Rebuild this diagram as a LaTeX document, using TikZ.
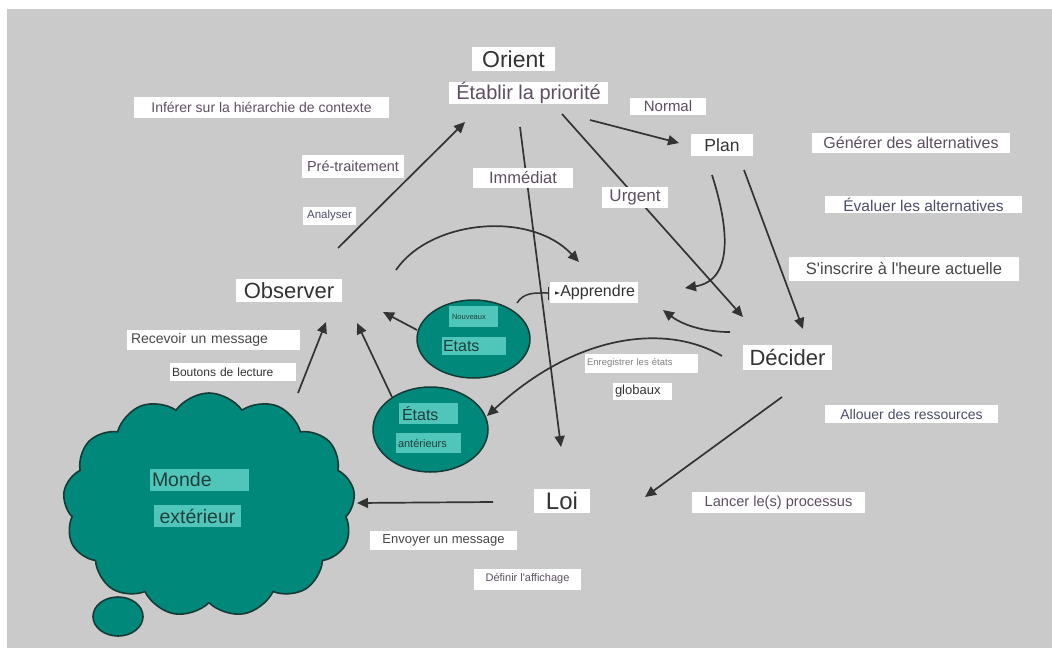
\documentclass[tikz,border=0pt]{standalone}
\usepackage{fontspec}
\setmainfont{Liberation Sans}[Ligatures=TeXOff]
\usetikzlibrary{arrows.meta,shapes.symbols,shapes.geometric}
\newcommand{\fsz}[1]{\fontsize{#1}{#1}\selectfont}
\definecolor{bg}{HTML}{CACACA}
\definecolor{sea}{HTML}{00897B}
\definecolor{seal}{HTML}{4FC6B9}
\definecolor{rim}{HTML}{163A36}
\definecolor{ink}{HTML}{333333}
\definecolor{mauve}{HTML}{5E4E62}
\definecolor{slate}{HTML}{4B4D6B}
\definecolor{gtx}{HTML}{474747}
\definecolor{deep}{HTML}{1F3F3C}
\tikzset{
  box/.style={fill=white, inner sep=0pt, text=ink},
  tag/.style={fill=seal, inner sep=0pt, text=deep, align=left},
  orb/.style={ellipse, draw=rim, fill=sea, line width=1.5pt, inner sep=0pt},
  wire/.style={draw=ink, line width=1.7pt, -{Triangle[length=11pt,width=10pt]}},
}
\begin{document}
\begin{tikzpicture}[x=1pt,y=-1pt]
\useasboundingbox (0,0) rectangle (1052,648);
\fill[white] (0,0) rectangle (1052,648);
\fill[bg] (7,9) rectangle (1052,648);

% outer world as a thought cloud
\node[ellipse, draw=rim, fill=sea, line width=1.6pt, minimum width=50pt, minimum height=39pt] (puff) at (118,616.5) {};
\node[cloud, cloud puffs=13, cloud puff arc=110, cloud ignores aspect, draw=rim, fill=sea, line width=1.6pt,
      minimum width=292pt, minimum height=224pt, inner sep=0pt] (world) at (209,505) {};
\node[tag, text width=95pt, inner xsep=2pt, minimum height=22pt, font=\fsz{19.5}] (monde) at (199.5,480) {Monde};
\node[tag, align=center, minimum width=87pt, minimum height=22pt, font=\fsz{19.5}] (ext) at (197.5,516) {extérieur};

% state stores
\node[orb, minimum width=113pt, minimum height=78pt] (fresh) at (473.5,339) {};
\node[tag, text width=43pt, inner xsep=3pt, minimum height=21pt, font=\fsz{7.5}] (nouv) at (473.5,316.5) {Nouveaux};
\node[tag, text width=62pt, inner xsep=1pt, minimum height=18pt, font=\fsz{16}] (etats) at (474,346) {Etats};
\node[orb, minimum width=115pt, minimum height=85pt] (past) at (430.5,429.5) {};
\node[tag, text width=53pt, inner xsep=3pt, minimum height=21pt, font=\fsz{16}] (etats2) at (428.5,413.5) {États};
\node[tag, text width=61pt, inner xsep=2pt, minimum height=20pt, font=\fsz{11}] (anter) at (428.5,443) {antérieurs};

% connector end points
\coordinate (obsUp) at (338,248);   \coordinate (prioIn) at (465,122);
\coordinate (arcS) at (396,270);    \coordinate (arcE) at (579,262);
\coordinate (immS) at (520,127);    \coordinate (immE) at (561,447);
\coordinate (urgS) at (562,114);    \coordinate (urgE) at (743,317);
\coordinate (norS) at (590,120);    \coordinate (norE) at (679,143);
\coordinate (plnS) at (712,175);    \coordinate (plnE) at (685,288);
\coordinate (plnD) at (744,170);    \coordinate (decIn) at (803,329);
\coordinate (decL) at (730,332);    \coordinate (aprIn) at (663,310);
\coordinate (decS) at (722,356);    \coordinate (pastIn) at (487,416);
\coordinate (decB) at (782,397);    \coordinate (loiIn) at (645,497);
\coordinate (loiS) at (493,502);    \coordinate (worldIn) at (357,503);
\coordinate (worldUp) at (298,393); \coordinate (obsA) at (326,322);
\coordinate (pastUp) at (392,397);  \coordinate (obsB) at (357,323);
\coordinate (freshL) at (417,330);  \coordinate (obsC) at (383,312);
\coordinate (freshR) at (517,303);  \coordinate (aprBar) at (549,293);
\coordinate (aprMark) at (560,293);

% connectors
\draw[wire] (obsUp) -- (prioIn);
\draw[wire] (arcS) .. controls (430,220) and (530,210) .. (arcE);
\draw[wire] (immS) -- (immE);
\draw[wire] (urgS) -- (urgE);
\draw[wire] (norS) -- (norE);
\draw[wire] (plnS) .. controls (728,225) and (735,280) .. (plnE);
\draw[wire] (plnD) -- (decIn);
\draw[wire] (decL) .. controls (700,332) and (680,323) .. (aprIn);
\draw[wire] (decS) .. controls (670,325) and (580,330) .. (pastIn);
\draw[wire] (decB) -- (loiIn);
\draw[wire] (loiS) -- (worldIn);
\draw[wire] (worldUp) -- (obsA);
\draw[wire] (pastUp) -- (obsB);
\draw[wire] (freshL) -- (obsC);

% labels
\node[box, minimum width=83pt, minimum height=24pt, font=\fsz{23}] (orient) at (513.5,59) {Orient};
\node[box, text=mauve, minimum width=159pt, minimum height=22pt, font=\fsz{20}] (prio) at (528.5,93) {Établir la priorité};
\node[box, text=mauve, minimum width=255pt, minimum height=21pt, font=\fsz{14}] (infer) at (261.5,107.5) {Inférer sur la hiérarchie de contexte};
\node[box, text=mauve, minimum width=76pt, minimum height=17pt, font=\fsz{15}] (normal) at (668,106.5) {Normal};
\node[box, minimum width=62pt, minimum height=22pt, font=\fsz{17.5}] (plan) at (722,145) {Plan};
\node[box, text=mauve, minimum width=198pt, minimum height=20pt, font=\fsz{16}] (gen) at (911,143) {Générer des alternatives};
\node[box, text=mauve, minimum width=102pt, minimum height=23pt, font=\fsz{14.5}] (pre) at (353,166.5) {Pré-traitement};
\node[box, text=slate, minimum width=53pt, minimum height=18pt, font=\fsz{11.5}] (ana) at (329.5,216) {Analyser};
\node[box, text=mauve, minimum width=100pt, minimum height=20pt, font=\fsz{16.5}] (imm) at (523,178) {Immédiat};
\node[box, text=mauve, minimum width=66pt, minimum height=21pt, font=\fsz{17}] (urg) at (635,197.5) {Urgent};
\node[box, text=slate, minimum width=197pt, minimum height=17pt, font=\fsz{15.5}] (eval) at (923.5,204.5) {Évaluer les alternatives};
\node[box, text=gtx, minimum width=230pt, minimum height=24pt, font=\fsz{16.5}] (insc) at (904,269) {S'inscrire à l'heure actuelle};
\node[box, minimum width=106pt, minimum height=23pt, font=\fsz{22}] (obs) at (289,290.5) {Observer};
\node[box, text width=82pt, align=right, inner xsep=3pt, minimum height=21pt, font=\fsz{16}] (appr) at (594,292.5) {Apprendre};
\node[box, text=gtx, text width=165pt, align=left, inner xsep=4pt, minimum height=20pt, font=\fsz{14}] (recv) at (213.5,340) {Recevoir un message};
\node[box, text width=122pt, align=left, inner xsep=2pt, minimum height=18pt, font=\fsz{12}] (bout) at (233,372) {Boutons de lecture};
\node[box, minimum width=89pt, minimum height=25pt, font=\fsz{22}] (dec) at (787.5,357.5) {Décider};
\node[box, text=gray, text width=109pt, align=left, inner xsep=2pt, minimum height=19pt, font=\fsz{9.5}] (enr) at (641.5,363) {Enregistrer les états};
\node[box, text width=55pt, align=left, inner xsep=2pt, minimum height=17pt, font=\fsz{13}] (glob) at (642.5,391.5) {globaux};
\node[box, text=slate, minimum width=173pt, minimum height=18pt, font=\fsz{14}] (alloc) at (911.5,414) {Allouer des ressources};
\node[box, minimum width=56pt, minimum height=24pt, font=\fsz{24}] (loi) at (562,501) {Loi};
\node[box, text=mauve, minimum width=173pt, minimum height=21pt, font=\fsz{14.6}] (lanc) at (778.5,502.5) {Lancer le(s) processus};
\node[box, text=gtx, minimum width=147pt, minimum height=19pt, font=\fsz{13}] (envoi) at (443.5,540.5) {Envoyer un message};
\node[box, text=mauve, minimum width=107pt, minimum height=21pt, font=\fsz{11}] (aff) at (527.5,579) {Définir l'affichage};

% link from the new states into the learning step, ending in a bar
\draw[draw=ink, line width=1.5pt, -{Bar[width=13pt]}]
  (freshR) .. controls (524,292) and (535,293) .. (aprBar);
\fill[ink] (aprMark) -- ++(-5,-1.6) -- ++(0,3.2) -- cycle;
\end{tikzpicture}
\end{document}
